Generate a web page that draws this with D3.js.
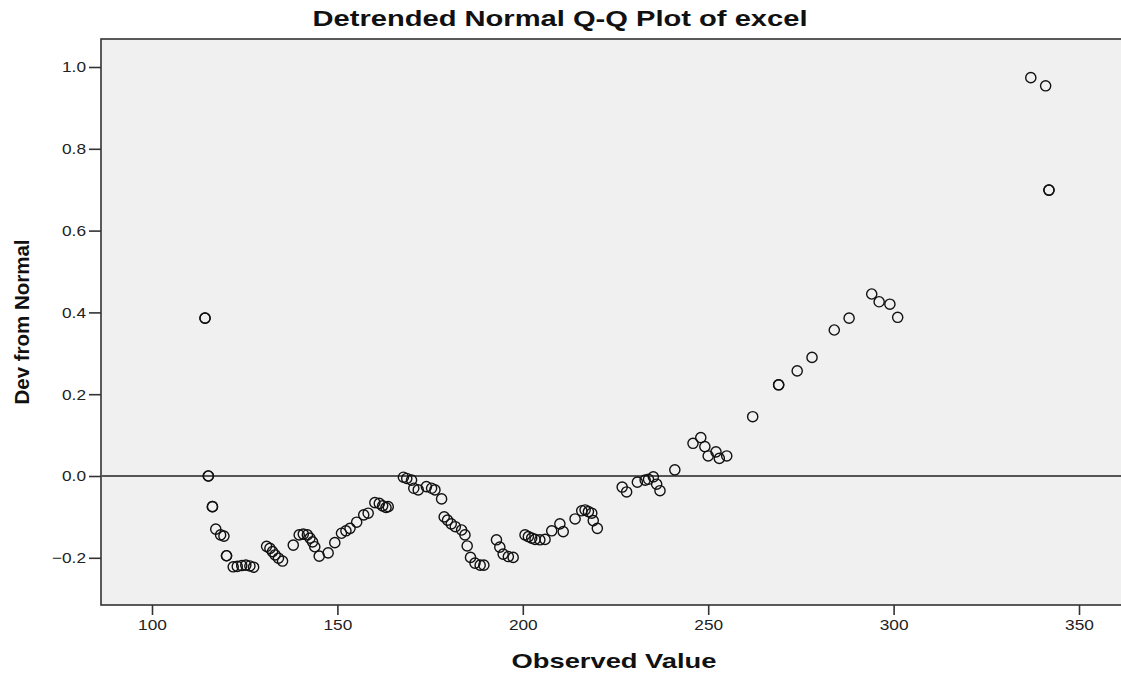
<!DOCTYPE html>
<html>
<head>
<meta charset="utf-8">
<script src="https://cdn.jsdelivr.net/npm/d3@7"></script>
<style>
  html, body { margin: 0; padding: 0; background: #ffffff; }
  svg { display: block; }
  text { font-family: "Liberation Sans", Arial, sans-serif; }
</style>
</head>
<body>
<svg id="chart" width="1121" height="673"></svg>
<script>
// ---- data ----
const observed = [
  114.3, 114.3, 115.2, 115.2, 116.3, 116.3, 117.2, 118.5, 119.4, 120.1, 120.1,
  121.9, 123.0, 124.2, 125.3, 126.4, 127.4,
  130.9, 131.8, 132.5, 133.2, 134.1, 135.2,
  138.1, 139.7, 140.8, 141.9, 142.6, 143.3, 143.9, 145.1,
  147.5, 149.3, 151.1, 152.3, 153.4, 155.2, 157.1, 158.3,
  160.1, 161.3, 162.2, 163.1, 163.7,
  167.8, 168.7, 170.0, 170.6, 171.8, 174.0, 175.4, 176.3, 178.1,
  178.8, 179.7, 180.7, 181.8, 183.5, 184.4, 185.0, 185.9, 187.1, 188.5, 189.5,
  192.9, 193.8, 194.7, 196.1, 197.4,
  200.6, 201.5, 202.4, 203.3, 204.6, 206.0, 207.8, 210.0, 210.9,
  214.1, 215.9, 216.8, 217.7, 218.6, 219.0, 220.1,
  226.8, 228.0, 230.9, 233.0, 233.9, 235.2, 236.1, 237.0, 241.0,
  245.9, 248.0, 249.1, 250.0, 252.1, 253.0, 255.0,
  262.0, 269.0, 269.0, 274.0, 278.0, 284.0, 288.0,
  294.1, 296.1, 299.0, 301.1,
  337.0, 341.0, 341.9, 341.9
];
const devFromNormal = [
  0.386, 0.386, 0.000, 0.000, -0.075, -0.075, -0.130, -0.144, -0.147, -0.195, -0.195,
  -0.222, -0.221, -0.219, -0.218, -0.220, -0.223,
  -0.172, -0.177, -0.185, -0.193, -0.201, -0.208,
  -0.169, -0.144, -0.142, -0.144, -0.152, -0.161, -0.173, -0.196,
  -0.188, -0.163, -0.140, -0.134, -0.128, -0.113, -0.095, -0.091,
  -0.065, -0.067, -0.073, -0.077, -0.075,
  -0.003, -0.006, -0.010, -0.030, -0.034, -0.026, -0.030, -0.034, -0.056,
  -0.100, -0.108, -0.117, -0.124, -0.132, -0.144, -0.171, -0.199, -0.213, -0.218, -0.218,
  -0.156, -0.174, -0.191, -0.197, -0.199,
  -0.144, -0.148, -0.152, -0.155, -0.156, -0.155, -0.134, -0.117, -0.136,
  -0.105, -0.085, -0.083, -0.087, -0.091, -0.109, -0.128,
  -0.027, -0.039, -0.015, -0.010, -0.008, -0.002, -0.020, -0.036, 0.015,
  0.080, 0.094, 0.072, 0.049, 0.059, 0.043, 0.049,
  0.145, 0.223, 0.223, 0.257, 0.290, 0.357, 0.386,
  0.445, 0.426, 0.420, 0.388,
  0.974, 0.954, 0.699, 0.699
];
const xTicks = [100, 150, 200, 250, 300, 350];
const yTicks = [-0.2, 0.0, 0.2, 0.4, 0.6, 0.8, 1.0];
const titleText = "Detrended Normal Q-Q Plot of excel";
const xLabelText = "Observed Value";
const yLabelText = "Dev from Normal";

// ---- layout ----
const plot = { left: 101, right: 1123, top: 39, bottom: 605 };
const svg = d3.select("#chart");

const x = d3.scaleLinear().domain([100, 350]).range([152, 1079]);
const y = d3.scaleLinear().domain([0, 1]).range([476, 67]);

// plot background + frame
svg.append("rect")
  .attr("x", plot.left).attr("y", plot.top)
  .attr("width", plot.right - plot.left).attr("height", plot.bottom - plot.top)
  .attr("fill", "#f0f0f0").attr("stroke", "#333").attr("stroke-width", 1.6);

// x axis
const xAxis = d3.axisBottom(x).tickValues(xTicks).tickSize(10).tickPadding(4)
  .tickFormat(d3.format("d"));
const gx = svg.append("g").attr("transform", `translate(0,${plot.bottom})`).call(xAxis);
gx.select(".domain").remove();
gx.selectAll(".tick line").attr("stroke", "#333").attr("stroke-width", 1.6);
gx.selectAll(".tick text").attr("font-size", 15).attr("fill", "#222")
  .attr("font-family", "'Liberation Sans', Arial, sans-serif");

// y axis
const yAxis = d3.axisLeft(y).tickValues(yTicks).tickSize(12).tickPadding(3)
  .tickFormat(d3.format(".1f"));
const gy = svg.append("g").attr("transform", `translate(${plot.left},0)`).call(yAxis);
gy.select(".domain").remove();
gy.selectAll(".tick line").attr("stroke", "#333").attr("stroke-width", 1.6);
gy.selectAll(".tick text").attr("font-size", 15).attr("fill", "#222")
  .attr("font-family", "'Liberation Sans', Arial, sans-serif");

// widen tick labels slightly (reference digits are wide)
svg.selectAll(".tick text").each(function() {
  const w = this.getComputedTextLength();
  d3.select(this).attr("textLength", w * 1.15).attr("lengthAdjust", "spacingAndGlyphs");
});

// zero reference line
svg.append("line")
  .attr("x1", plot.left).attr("x2", plot.right)
  .attr("y1", y(0)).attr("y2", y(0))
  .attr("stroke", "#555").attr("stroke-width", 2);

// points
svg.append("g").selectAll("circle")
  .data(observed.map((v, i) => ({ x: v, y: devFromNormal[i] })))
  .join("circle")
  .attr("cx", d => x(d.x)).attr("cy", d => y(d.y))
  .attr("r", 5.1)
  .attr("fill", "none").attr("stroke", "#111").attr("stroke-width", 1.4);

// title
svg.append("text")
  .attr("x", 560).attr("y", 26)
  .attr("text-anchor", "middle")
  .attr("font-size", 22).attr("font-weight", "bold").attr("fill", "#111")
  .attr("textLength", 495).attr("lengthAdjust", "spacingAndGlyphs")
  .text(titleText);

// x label
svg.append("text")
  .attr("x", 614).attr("y", 668)
  .attr("text-anchor", "middle")
  .attr("font-size", 21).attr("font-weight", "bold").attr("fill", "#111")
  .attr("textLength", 205).attr("lengthAdjust", "spacingAndGlyphs")
  .text(xLabelText);

// y label
svg.append("text")
  .attr("transform", `translate(29,322) rotate(-90)`)
  .attr("text-anchor", "middle")
  .attr("font-size", 21).attr("font-weight", "bold").attr("fill", "#111")
  .attr("textLength", 165).attr("lengthAdjust", "spacingAndGlyphs")
  .text(yLabelText);
</script>
</body>
</html>
